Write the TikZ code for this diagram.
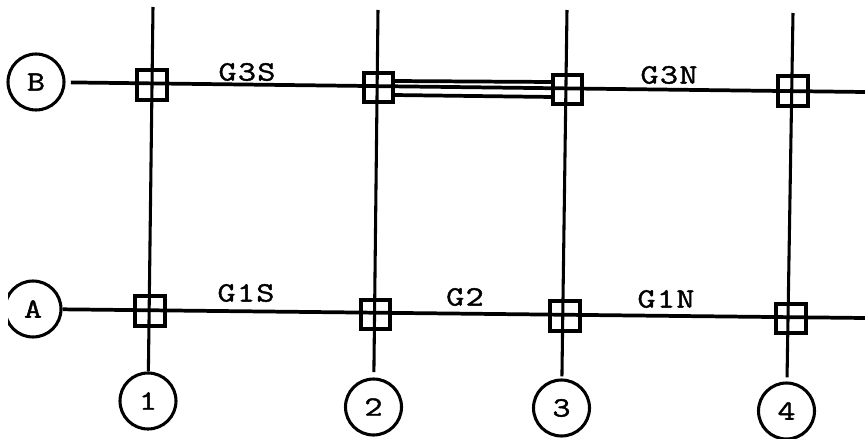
\documentclass[tikz,border=0pt]{standalone}
\usepackage{fontspec}
\setmonofont{Latin Modern Mono}[LetterSpace=5,FakeStretch=1.25,FakeBold=1.5]
\newfontfamily\circfont{Latin Modern Mono}[FakeStretch=1.25,FakeBold=1.5]
\usetikzlibrary{positioning}
\tikzset{
  col line/.style={line width=2.3pt},
  row line/.style={line width=2.8pt},
  bubble/.style={draw,circle,line width=2.3pt,minimum size=42pt,inner sep=0pt,font=\circfont\fontsize{21}{21}\selectfont},
  joint/.style={draw,rectangle,line width=2.8pt,minimum size=22pt,inner sep=0pt},
  girder/.style={inner sep=0pt,font=\ttfamily\fontsize{21}{21}\selectfont},
  plate/.style={line width=2.8pt}
}
\begin{document}
\begin{tikzpicture}[x=0.75pt,y=-0.75pt]
    \useasboundingbox (0,0) rectangle (865,439);

    \node[bubble] (rowB) at (36,82) {B};
    \node[bubble] (rowA) at (33,309) {A};
    \node[bubble] (col1) at (148,401) {1};
    \node[bubble] (col2) at (373.5,407) {2};
    \node[bubble] (col3) at (561.5,408) {3};
    \node[bubble] (col4) at (786.5,411) {4};
    \fill[white] (0,270) rectangle (8,350);

    \coordinate (top1) at (153,7);
    \coordinate (top2) at (378,10);
    \coordinate (top3) at (567,10);
    \coordinate (top4) at (793,13);
    \coordinate (endB) at (865,92);
    \coordinate (endA) at (865,318);

    \draw[col line] (top1) -- (col1);
    \draw[col line,shorten >=4pt] (top2) -- (col2);
    \draw[col line,shorten >=1.5pt] (top3) -- (col3);
    \draw[col line,shorten >=3pt] (top4) -- (col4);
    \draw[row line,shorten <=4pt] (rowB) -- (endB);
    \draw[row line] (rowA) -- (endA);

    \node[joint] (b1) at (152,85) {};
    \node[joint] (b2) at (378.5,87.5) {};
    \node[joint] (b3) at (567.5,89.5) {};
    \node[joint] (b4) at (793,91) {};
    \node[joint] (a1) at (150,311) {};
    \node[joint] (a2) at (375.5,314.5) {};
    \node[joint] (a3) at (565,316) {};
    \node[joint] (a4) at (791,318.5) {};

    % cover plates
    \coordinate (b2top) at (393,81);
    \coordinate (b3top) at (553,82);
    \coordinate (b2bot) at (393,95);
    \coordinate (b3bot) at (553,97);
    \draw[plate] (b2top) -- (b3top);
    \draw[plate] (b2bot) -- (b3bot);

    \node[girder] (g3s) at (247,72) {G3S};
    \node[girder] (g3n) at (669,75) {G3N};
    \node[girder] (g1s) at (246,293) {G1S};
    \node[girder] (g2) at (465,297) {G2};
    \node[girder] (g1n) at (666,299) {G1N};
\end{tikzpicture}
\end{document}
